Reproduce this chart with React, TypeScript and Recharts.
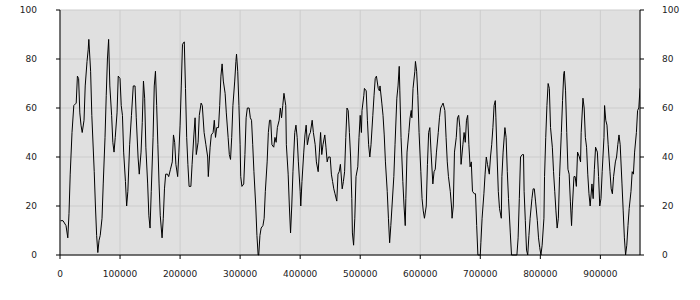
import React from "react";
import { LineChart, Line, XAxis, YAxis, CartesianGrid } from "recharts";

// sample positions
const xs = [
  1000, 5000, 10000, 13000, 15000, 17000, 20000, 23000, 27000, 29000, 31000, 33000, 35000, 37000, 40000, 42000,
  45000, 47000, 48000, 51000, 53000, 57000, 59000, 61000, 63000, 65000, 67000, 70000, 72000, 75000, 77000, 79000,
  81000, 83000, 86000, 88000, 90000, 92000, 95000, 97000, 100000, 102000, 104000, 106000, 109000, 111000, 113000,
  116000, 119000, 122000, 125000, 127000, 130000, 132000, 135000, 137000, 139000, 141000, 143000, 146000, 148000,
  150000, 152000, 155000, 157000, 159000, 161000, 163000, 165000, 167000, 170000, 172000, 174000, 176000, 179000,
  181000, 184000, 187000, 189000, 191000, 193000, 196000, 198000, 200000, 202000, 204000, 207000, 209000, 211000,
  213000, 215000, 218000, 220000, 223000, 225000, 227000, 230000, 232000, 235000, 237000, 240000, 243000, 246000,
  247000, 250000, 252000, 255000, 257000, 259000, 261000, 264000, 266000, 268000, 270000, 272000, 275000, 277000,
  280000, 282000, 284000, 286000, 288000, 291000, 293000, 294000, 296000, 298000, 300000, 301000, 303000, 306000,
  308000, 310000, 312000, 315000, 317000, 319000, 321000, 323000, 326000, 328000, 330000, 331000, 333000, 335000,
  338000, 340000, 342000, 345000, 347000, 349000, 351000, 353000, 356000, 358000, 360000, 362000, 365000, 367000,
  369000, 371000, 373000, 376000, 377000, 380000, 382000, 384000, 386000, 388000, 391000, 393000, 395000, 397000,
  400000, 401000, 403000, 406000, 408000, 410000, 412000, 415000, 417000, 420000, 422000, 425000, 427000, 430000,
  432000, 434000, 436000, 438000, 441000, 443000, 445000, 447000, 450000, 452000, 454000, 456000, 458000, 461000,
  463000, 465000, 467000, 470000, 472000, 474000, 476000, 478000, 480000, 482000, 484000, 486000, 487000, 489000,
  491000, 493000, 496000, 498000, 500000, 502000, 503000, 506000, 507000, 510000, 512000, 514000, 516000, 518000,
  521000, 523000, 525000, 527000, 530000, 532000, 533000, 536000, 538000, 540000, 542000, 545000, 547000, 549000,
  551000, 553000, 556000, 558000, 561000, 563000, 565000, 566000, 568000, 571000, 573000, 575000, 576000, 578000,
  581000, 583000, 585000, 586000, 588000, 591000, 592000, 594000, 596000, 598000, 601000, 603000, 605000, 607000,
  610000, 612000, 614000, 616000, 618000, 621000, 623000, 625000, 627000, 630000, 632000, 634000, 636000, 638000,
  641000, 643000, 645000, 647000, 650000, 652000, 653000, 655000, 657000, 660000, 662000, 664000, 666000, 668000,
  671000, 673000, 675000, 677000, 679000, 681000, 683000, 685000, 687000, 690000, 692000, 694000, 696000, 700000,
  701000, 703000, 706000, 708000, 710000, 712000, 715000, 717000, 719000, 721000, 723000, 725000, 726000, 728000,
  730000, 732000, 735000, 736000, 738000, 741000, 743000, 745000, 747000, 750000, 752000, 761000, 763000, 765000,
  767000, 770000, 772000, 773000, 775000, 777000, 779000, 781000, 783000, 786000, 788000, 790000, 792000, 795000,
  797000, 799000, 801000, 803000, 806000, 807000, 809000, 811000, 813000, 815000, 817000, 820000, 822000, 824000,
  826000, 828000, 830000, 832000, 835000, 837000, 839000, 840000, 842000, 844000, 846000, 848000, 850000, 852000,
  853000, 856000, 858000, 860000, 862000, 865000, 867000, 868000, 871000, 873000, 875000, 877000, 879000, 881000,
  883000, 886000, 888000, 890000, 892000, 895000, 897000, 899000, 901000, 903000, 906000, 907000, 909000, 911000,
  913000, 916000, 918000, 920000, 922000, 925000, 927000, 929000, 931000, 933000, 936000, 938000, 940000, 942000,
  944000, 946000, 948000, 951000, 953000, 955000, 957000, 960000, 962000, 964000, 966000,
];

const values = [
  14, 14, 12, 7, 17, 33, 50, 61, 62, 73, 72, 58, 53, 50, 55, 69,
  79, 84, 88, 75, 57, 34, 20, 8, 1, 6, 8, 15, 29, 48, 65, 80,
  88, 69, 57, 46, 42, 48, 58, 73, 72, 61, 57, 42, 30, 20, 26,
  45, 57, 69, 69, 56, 40, 33, 42, 54, 71, 64, 44, 29, 16,
  11, 26, 48, 69, 75, 61, 45, 29, 16, 7, 15, 27, 33, 33,
  32, 35, 38, 49, 46, 37, 32, 42, 53, 69, 86, 87, 68, 48,
  37, 28, 28, 37, 49, 56, 41, 46, 57, 62, 61, 50, 45, 40,
  32, 44, 49, 50, 55, 48, 52, 52, 61, 73, 78, 71, 66, 58,
  48, 41, 39, 48, 61, 71, 79, 82, 75, 61, 45, 32, 28, 29,
  41, 56, 60, 60, 56, 55, 45, 34, 20, 8, 0, 0, 8, 11,
  12, 15, 26, 38, 50, 55, 55, 45, 44, 48, 46, 52, 55, 60,
  56, 61, 66, 61, 45, 33, 20, 9, 20, 34, 50, 53, 48, 38,
  26, 20, 30, 42, 49, 53, 45, 49, 50, 55, 50, 45, 38, 34,
  42, 50, 41, 45, 49, 44, 38, 40, 40, 33, 30, 27, 25, 22,
  33, 34, 37, 27, 30, 34, 48, 60, 59, 50, 40, 23, 9, 4,
  15, 32, 36, 48, 57, 50, 59, 65, 68, 67, 55, 45, 40, 45,
  57, 65, 72, 73, 68, 67, 69, 62, 57, 49, 38, 26, 15, 5,
  12, 20, 32, 45, 64, 69, 77, 67, 48, 30, 20, 12, 23, 42,
  50, 56, 59, 56, 68, 75, 79, 75, 65, 50, 34, 23, 18, 15,
  20, 37, 50, 52, 42, 29, 34, 35, 42, 50, 56, 60, 61, 62,
  59, 48, 38, 32, 26, 20, 15, 20, 42, 48, 56, 57, 52, 37,
  45, 50, 46, 55, 57, 45, 36, 38, 26, 25, 25, 12, 0, 0,
  5, 15, 25, 33, 40, 37, 33, 40, 45, 52, 61, 63, 56, 40,
  26, 19, 15, 32, 42, 52, 48, 34, 23, 9, 0, 0, 7, 23,
  40, 41, 41, 26, 14, 2, 0, 8, 15, 23, 27, 27, 22, 14,
  7, 3, 0, 4, 15, 32, 48, 61, 70, 68, 52, 44, 34, 26,
  18, 11, 15, 32, 50, 63, 74, 75, 67, 50, 35, 33, 22, 12,
  18, 32, 32, 28, 42, 40, 38, 50, 64, 60, 48, 44, 33, 25,
  20, 29, 23, 35, 44, 42, 32, 20, 23, 34, 48, 61, 55, 53,
  45, 34, 27, 25, 32, 38, 40, 45, 49, 45, 29, 18, 7, 0,
  4, 12, 19, 26, 34, 33, 42, 50, 59, 60, 68,
];

const xTicks = [0, 100000, 200000, 300000, 400000, 500000, 600000, 700000, 800000, 900000];
const yTicks = [0, 20, 40, 60, 80, 100];

const data = xs.map((x, i) => ({ x, y: values[i] }));

const tickStyle = { fill: "#222", fontSize: 9, fontFamily: "DejaVu Sans" };

export default function App() {
  return (
    <div style={{ position: "absolute", left: 0, top: 0, width: 700, height: 300, background: "#fff" }}>
      <LineChart width={700} height={300} data={data} margin={{ top: 10, right: 10, bottom: 10, left: 10 }}>
        <CartesianGrid yAxisId="left" fill="#e0e0e0" stroke="#cccccc" />
        <XAxis
          dataKey="x"
          type="number"
          domain={[0, 966000]}
          ticks={xTicks}
          height={35}
          tick={tickStyle}
          tickSize={4}
          tickMargin={12}
          stroke="#000"
          allowDataOverflow
        />
        {/* top frame line */}
        <XAxis
          xAxisId="top"
          orientation="top"
          dataKey="x"
          type="number"
          domain={[0, 966000]}
          height={0}
          tick={false}
          tickLine={false}
          stroke="#000"
          allowDataOverflow
        />
        <YAxis
          yAxisId="left"
          domain={[0, 100]}
          ticks={yTicks}
          width={50}
          tick={tickStyle}
          tickSize={4}
          tickMargin={19}
          stroke="#000"
        />
        <YAxis
          yAxisId="right"
          orientation="right"
          domain={[0, 100]}
          ticks={yTicks}
          width={50}
          tick={tickStyle}
          tickSize={4}
          tickMargin={18}
          stroke="#000"
        />
        <Line
          xAxisId="top"
          yAxisId="right"
          dataKey="y"
          stroke="none"
          dot={false}
          legendType="none"
          isAnimationActive={false}
        />
        <Line
          yAxisId="left"
          type="linear"
          dataKey="y"
          stroke="#000"
          strokeWidth={1}
          dot={false}
          isAnimationActive={false}
        />
      </LineChart>
    </div>
  );
}
